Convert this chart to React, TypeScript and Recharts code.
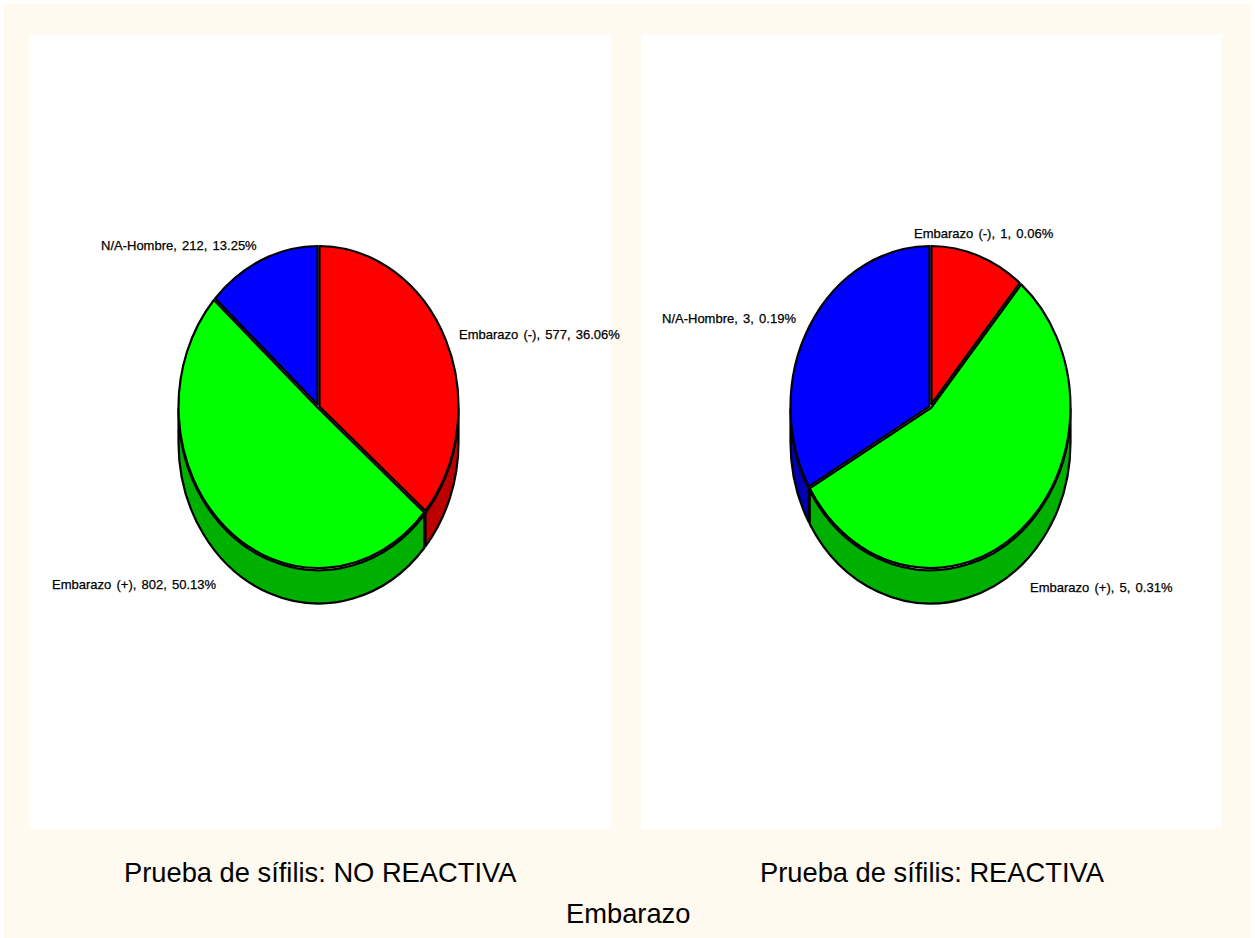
import { PieChart, Pie } from 'recharts';

const categories = ['Embarazo (-)', 'Embarazo (+)', 'N/A-Hombre'];
const topColors = ['#ff0000', '#00ff00', '#0000ff'];
const wallColors = ['#bb0000', '#00b000', '#0000b0'];

const noReactivaCounts = [577, 802, 212];
const noReactivaShares = ['36.06%', '50.13%', '13.25%'];
const reactivaCounts = [1, 5, 3];
const reactivaShares = ['0.06%', '0.31%', '0.19%'];

// label start and baseline, measured from the pie centre
const noReactivaLabelOffsets = [
    [140.5, -68],
    [-266.5, 182],
    [-217.5, -157],
];
const reactivaLabelOffsets = [
    [-16.5, -169],
    [99.5, 185],
    [-268.5, -84],
];

const CHART_W = 600;
const CHART_H = 795;
const CX = 289.5;
const CY = 373;
const RADIUS_Y = 161;
const X_SCALE = 140 / 161;
const DEPTH = 35.5;
const EDGE_GAP = 1.1;
const LIP = 2.2;
const STROKE = 2.2;
const LABEL_FONT = '"Liberation Sans", Arial, sans-serif';

// point on the ellipse, theta in degrees clockwise from the top
function rimPoint(cx: number, cy: number, r: number, theta: number) {
    const t = (theta * Math.PI) / 180;
    return [cx + X_SCALE * r * Math.sin(t), cy - r * Math.cos(t)];
}

function TopSlice(props: any) {
    const { cx, cy, outerRadius, startAngle, endAngle, fill } = props;
    const from = 90 - startAngle;
    const to = 90 - endAngle;
    const half = (to - from) / 2;
    const mid = from + half;
    const pad = (EDGE_GAP / outerRadius) * (180 / Math.PI);
    const shift = EDGE_GAP / Math.max(Math.sin((half * Math.PI) / 180), 0.2);
    const [ax, ay] = rimPoint(cx, cy, shift, mid);
    const [sx, sy] = rimPoint(cx, cy, outerRadius, from + pad);
    const [ex, ey] = rimPoint(cx, cy, outerRadius, to - pad);
    const rx = outerRadius * X_SCALE;
    const large = to - from - 2 * pad > 180 ? 1 : 0;
    const d = `M${ax},${ay} L${sx},${sy} A${rx},${outerRadius} 0 ${large} 1 ${ex},${ey} Z`;
    return <path d={d} fill={fill} stroke="#000" strokeWidth={STROKE} strokeLinejoin="round" />;
}

// side wall, only the part of a slice that faces the viewer (lower half of the rim)
function WallSlice(props: any) {
    const { cx, cy, outerRadius, startAngle, endAngle, fill } = props;
    const pad = (EDGE_GAP / outerRadius) * (180 / Math.PI);
    const from = Math.max(90 - startAngle + pad, 90);
    const to = Math.min(90 - endAngle - pad, 270);
    if (to <= from) return <g />;
    const rx = outerRadius * X_SCALE;
    const lip = cy + LIP;
    const [sx, sy] = rimPoint(cx, lip, outerRadius, from);
    const [ex, ey] = rimPoint(cx, lip, outerRadius, to);
    const large = to - from > 180 ? 1 : 0;
    const drop = DEPTH - LIP;
    const d =
        `M${sx},${sy} A${rx},${outerRadius} 0 ${large} 1 ${ex},${ey} ` +
        `L${ex},${ey + drop} A${rx},${outerRadius} 0 ${large} 0 ${sx},${sy + drop} Z`;
    return <path d={d} fill={fill} stroke="#000" strokeWidth={STROKE} strokeLinejoin="round" />;
}

interface PanelProps {
    counts: number[];
    shares: string[];
    offsets: number[][];
    left: number;
}

function PiePanel({ counts, shares, offsets, left }: PanelProps) {
    const topData = categories.map((name, i) => ({ name, value: counts[i], fill: topColors[i] }));
    const wallData = categories.map((name, i) => ({ name, value: counts[i], fill: wallColors[i] }));

    const renderLabel = (p: any) => (
        <text
            key={p.index}
            x={CX + offsets[p.index][0]}
            y={CY + offsets[p.index][1]}
            fontFamily={LABEL_FONT}
            fontSize={13}
            wordSpacing={1.6}
            fill="#000"
            stroke="#000"
            strokeWidth={0.25}
            textAnchor="start"
        >
            {`${categories[p.index]}, ${counts[p.index]}, ${shares[p.index]}`}
        </text>
    );

    return (
        <div style={{ position: 'absolute', left, top: 34 }}>
            <PieChart width={CHART_W} height={CHART_H} margin={{ top: 0, right: 0, bottom: 0, left: 0 }}>
                <Pie
                    data={wallData}
                    dataKey="value"
                    cx={CX}
                    cy={CY}
                    outerRadius={RADIUS_Y}
                    startAngle={90}
                    endAngle={-270}
                    shape={WallSlice}
                    isAnimationActive={false}
                    label={false}
                    labelLine={false}
                />
                <Pie
                    data={topData}
                    dataKey="value"
                    cx={CX}
                    cy={CY}
                    outerRadius={RADIUS_Y}
                    startAngle={90}
                    endAngle={-270}
                    shape={TopSlice}
                    isAnimationActive={false}
                    label={renderLabel}
                    labelLine={false}
                />
            </PieChart>
        </div>
    );
}

const captionStyle: React.CSSProperties = {
    position: 'absolute',
    fontFamily: LABEL_FONT,
    fontSize: 27.3,
    color: '#000',
    whiteSpace: 'nowrap',
    lineHeight: '30px',
};

export default function App() {
    return (
        <div style={{ position: 'absolute', left: 0, top: 0, width: 1255, height: 938, background: '#fff', overflow: 'hidden' }}>
            <div style={{ position: 'absolute', left: 4, top: 4, width: 1247, height: 934, background: '#fffaf0' }} />
            <div style={{ position: 'absolute', left: 29, top: 34, width: 582, height: 795, background: '#fff' }} />
            <div style={{ position: 'absolute', left: 641, top: 34, width: 581, height: 795, background: '#fff' }} />
            <PiePanel counts={noReactivaCounts} shares={noReactivaShares} offsets={noReactivaLabelOffsets} left={29} />
            <PiePanel counts={reactivaCounts} shares={reactivaShares} offsets={reactivaLabelOffsets} left={641} />
            <div style={{ ...captionStyle, left: 124, top: 858 }}>Prueba de sífilis: NO REACTIVA</div>
            <div style={{ ...captionStyle, left: 760, top: 858 }}>Prueba de sífilis: REACTIVA</div>
            <div style={{ ...captionStyle, left: 566, top: 899 }}>Embarazo</div>
        </div>
    );
}
